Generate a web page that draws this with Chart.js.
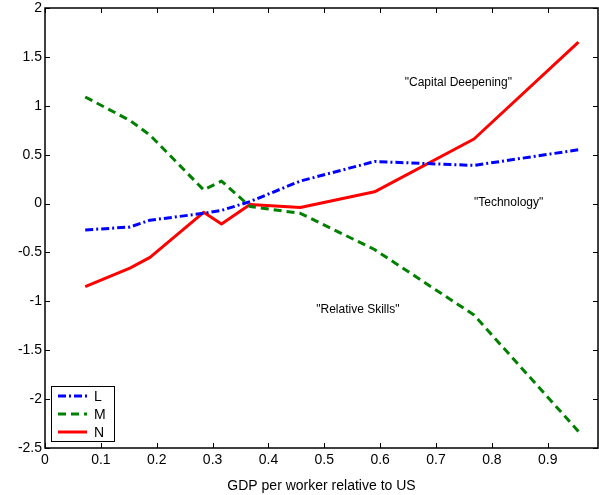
<!DOCTYPE html>
<html>
<head>
<meta charset="utf-8">
<script src="https://cdn.jsdelivr.net/npm/chart.js@4.4.1/dist/chart.umd.min.js"></script>
<style>
  html, body { margin: 0; padding: 0; background: #fff; }
  #wrap { width: 599px; height: 495px; }
</style>
</head>
<body>
<div id="wrap"><canvas id="chart" width="599" height="495"></canvas></div>
<script>
// GDP per worker relative to US
const gdp = [0.072, 0.152, 0.188, 0.284, 0.316, 0.367, 0.457, 0.59, 0.768, 0.955];
const seriesL = [-0.27, -0.24, -0.17, -0.10, -0.07, 0.02, 0.23, 0.43, 0.39, 0.55];
const seriesM = [1.09, 0.85, 0.70, 0.14, 0.23, -0.03, -0.10, -0.47, -1.14, -2.33];
const seriesN = [-0.85, -0.66, -0.55, -0.09, -0.21, -0.01, -0.04, 0.12, 0.66, 1.65];
const xTicks = [0, 0.1, 0.2, 0.3, 0.4, 0.5, 0.6, 0.7, 0.8, 0.9];
const yTicks = [-2.5, -2, -1.5, -1, -0.5, 0, 0.5, 1, 1.5, 2];
const notes = [
  { text: '"Capital Deepening"', x: 0.74, y: 1.235 },
  { text: '"Technology"', x: 0.83, y: 0.01 },
  { text: '"Relative Skills"', x: 0.56, y: -1.09 }
];

const FONT = '"Liberation Sans", Arial, sans-serif';

function pts(ys) {
  return gdp.map((x, i) => ({ x: x, y: ys[i] }));
}

const datasets = [
  { label: 'L', data: pts(seriesL), borderColor: '#0000ff', borderWidth: 3, borderDash: [8, 3, 2, 3] },
  { label: 'M', data: pts(seriesM), borderColor: '#008000', borderWidth: 3, borderDash: [8, 5] },
  { label: 'N', data: pts(seriesN), borderColor: '#ff0000', borderWidth: 3 }
];

// inward ticks on all four sides, text notes and the boxed legend
const extras = {
  id: 'extras',
  afterDraw(chart) {
    const ctx = chart.ctx;
    const a = chart.chartArea;
    const xs = chart.scales.x, ys = chart.scales.y;
    ctx.save();
    ctx.strokeStyle = '#000';
    ctx.lineWidth = 1;
    ctx.beginPath();
    xTicks.forEach(v => {
      const px = Math.round(xs.getPixelForValue(v)) + 0.5;
      ctx.moveTo(px, a.bottom); ctx.lineTo(px, a.bottom - 5);
      ctx.moveTo(px, a.top); ctx.lineTo(px, a.top + 5);
    });
    yTicks.forEach(v => {
      const py = Math.round(ys.getPixelForValue(v)) + 0.5;
      ctx.moveTo(a.left, py); ctx.lineTo(a.left + 5, py);
      ctx.moveTo(a.right, py); ctx.lineTo(a.right - 5, py);
    });
    ctx.stroke();
    ctx.lineWidth = 1.5;
    ctx.strokeRect(a.left, a.top, a.right - a.left, a.bottom - a.top);

    ctx.fillStyle = '#000';
    ctx.font = '12px ' + FONT;
    ctx.textAlign = 'center';
    ctx.textBaseline = 'middle';
    notes.forEach(n => {
      ctx.fillText(n.text, xs.getPixelForValue(n.x), ys.getPixelForValue(n.y));
    });

    // legend box
    const bx = 51.5, by = 386.5, bw = 63, bh = 55;
    ctx.fillStyle = '#fff';
    ctx.fillRect(bx, by, bw, bh);
    ctx.lineWidth = 1;
    ctx.strokeStyle = '#000';
    ctx.strokeRect(bx, by, bw, bh);
    ctx.font = '14px ' + FONT;
    ctx.textAlign = 'left';
    chart.data.datasets.forEach((d, i) => {
      const ly = 396 + i * 18;
      ctx.beginPath();
      ctx.strokeStyle = d.borderColor;
      ctx.lineWidth = 3;
      ctx.setLineDash(d.borderDash || []);
      ctx.moveTo(58, ly); ctx.lineTo(87, ly);
      ctx.stroke();
      ctx.setLineDash([]);
      ctx.fillStyle = '#000';
      ctx.fillText(d.label, 94, ly + 1);
    });
    ctx.restore();
  }
};

new Chart(document.getElementById('chart'), {
  type: 'scatter',
  data: { datasets: datasets },
  options: {
    responsive: false,
    animation: false,
    showLine: true,
    layout: { padding: { top: 8, right: 1, left: 0, bottom: 0 } },
    elements: {
      point: { radius: 0 },
      line: { tension: 0, fill: false, borderJoinStyle: 'round' }
    },
    plugins: { legend: { display: false }, tooltip: { enabled: false } },
    scales: {
      x: {
        type: 'linear', min: 0, max: 0.99,
        afterBuildTicks: s => { s.ticks = xTicks.map(v => ({ value: v })); },
        afterFit: s => { s.height = 47; s.paddingLeft = 0; s.paddingRight = 0; },
        grid: { display: false, drawTicks: false },
        border: { display: false },
        ticks: { color: '#000', font: { family: FONT, size: 14 }, padding: 4, maxRotation: 0,
                 callback: v => String(v) },
        title: { display: true, text: 'GDP per worker relative to US', color: '#000',
                 font: { family: FONT, size: 14 }, padding: { top: 4, bottom: 0 } }
      },
      y: {
        type: 'linear', min: -2.5, max: 2,
        afterBuildTicks: s => { s.ticks = yTicks.map(v => ({ value: v })); },
        afterFit: s => { s.width = 45; s.paddingTop = 0; s.paddingBottom = 0; },
        grid: { display: false, drawTicks: false },
        border: { display: false },
        ticks: { color: '#000', font: { family: FONT, size: 14 }, padding: 3,
                 callback: v => String(v) }
      }
    }
  },
  plugins: [extras]
});
</script>
</body>
</html>
